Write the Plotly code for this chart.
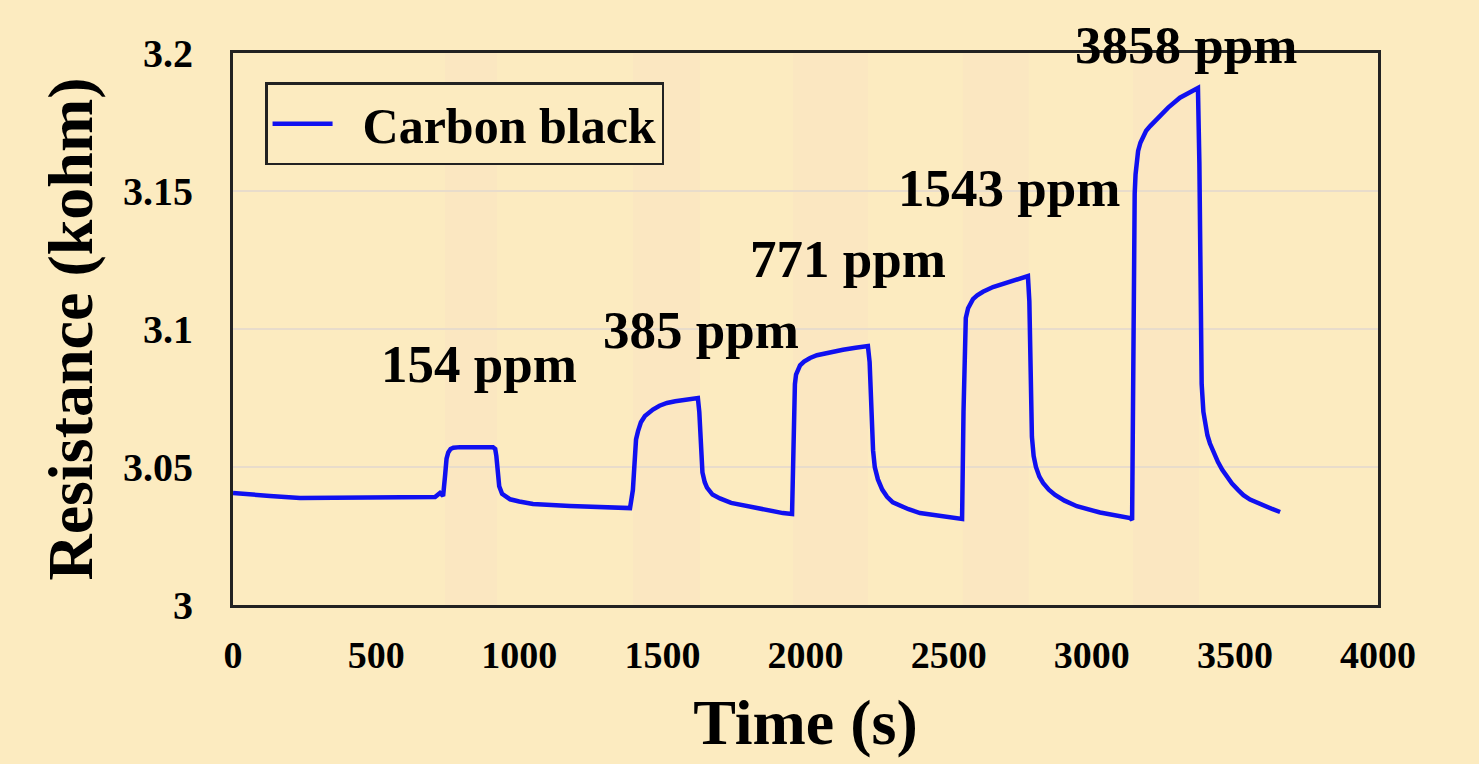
import plotly.graph_objects as go

# ---- data ----
time_s = [0, 42, 129, 234, 409, 583, 706, 723, 734,
          741, 746, 752, 760, 770, 793, 908, 916, 920, 924, 930, 940, 955, 968, 1000, 1048, 1177, 1282, 1387,
          1397, 1402, 1408, 1415, 1425, 1439, 1452, 1467, 1490, 1516, 1545, 1579, 1624,
          1629, 1634, 1640, 1648, 1656, 1675, 1701, 1740, 1806, 1921, 1953,
          1958, 1963, 1967, 1973, 1981, 1995, 2016, 2040, 2068, 2100, 2131, 2175, 2218,
          2224, 2230, 2236, 2242, 2253, 2268, 2285, 2305, 2330, 2360, 2400, 2470, 2540, 2547,
          2552, 2556, 2560, 2568, 2576, 2585, 2600, 2620, 2655, 2714, 2777,
          2782, 2786, 2791, 2797, 2805, 2817, 2830, 2850, 2872, 2905, 2948, 3029, 3134, 3141,
          3146, 3150, 3153, 3157, 3162, 3170, 3179, 3190, 3204, 3228, 3267, 3308, 3343, 3371,
          3376, 3380, 3384, 3390, 3396, 3404, 3413, 3425, 3441, 3456, 3473, 3490, 3511, 3530, 3553, 3578, 3605, 3630, 3658]
resistance = [3.0406, 3.0402, 3.0395, 3.0388, 3.0388, 3.0391, 3.0391, 3.0406, 3.0395,
              3.0470, 3.0530, 3.0553, 3.0565, 3.0570, 3.0572, 3.0572, 3.0565, 3.0540, 3.0480, 3.0430, 3.0403, 3.0390, 3.0383, 3.0375, 3.0366, 3.0359, 3.0355, 3.0351,
              3.0417, 3.0540, 3.0600, 3.0630, 3.0662, 3.0685, 3.0698, 3.0708, 3.0722, 3.0732, 3.0738, 3.0743, 3.0750,
              3.0700, 3.0560, 3.0480, 3.0445, 3.0425, 3.0400, 3.0386, 3.0370, 3.0355, 3.0333, 3.0330,
              3.0600, 3.0800, 3.0835, 3.0855, 3.0868, 3.0882, 3.0895, 3.0905, 3.0912, 3.0920, 3.0925, 3.0932, 3.0938,
              3.0880, 3.0700, 3.0560, 3.0500, 3.0455, 3.0418, 3.0392, 3.0372, 3.0359, 3.0347, 3.0333, 3.0322, 3.0315, 3.0312,
              3.0700, 3.0970, 3.1040, 3.1075, 3.1095, 3.1108, 3.1122, 3.1135, 3.1152, 3.1170, 3.1192,
              3.1100, 3.0800, 3.0609, 3.0540, 3.0500, 3.0465, 3.0442, 3.0418, 3.0399, 3.0378, 3.0358, 3.0335, 3.0315, 3.0308,
              3.1100, 3.1490, 3.1560, 3.1610, 3.1645, 3.1675, 3.1698, 3.1718, 3.1735, 3.1762, 3.1802, 3.1838, 3.1859, 3.1873,
              3.1600, 3.1000, 3.0800, 3.0700, 3.0650, 3.0615, 3.0585, 3.0552, 3.0518, 3.0490, 3.0464, 3.0440, 3.0417, 3.0398, 3.0382, 3.0370, 3.0358, 3.0348, 3.0337]

exposure_start = [741, 1397, 1956, 2550, 3144]
exposure_end = [922, 1631, 2218, 2780, 3375]

conc_labels = ["154 ppm", "385 ppm", "771 ppm", "1543 ppm", "3858 ppm"]
label_x = [860, 1635, 2150, 2710, 3330]
label_y = [3.0875, 3.0995, 3.1255, 3.151, 3.2030]

x_ticks = [0, 500, 1000, 1500, 2000, 2500, 3000, 3500, 4000]
y_ticks = [3.0, 3.05, 3.1, 3.15, 3.2]
y_tick_text = ["3", "3.05", "3.1", "3.15", "3.2"]

Y_MIN, Y_MAX = 3.0, 3.2
BG = "#FCEBC0"
BAND = "rgba(250,215,200,0.2)"
FONT = "Liberation Serif"

fig = go.Figure()
fig.add_trace(go.Scatter(
    x=time_s, y=resistance, mode="lines", name="\u00a0\u00a0<b>Carbon black</b>",
    line=dict(color="#1010F0", width=4.5),
))

for s, e in zip(exposure_start, exposure_end):
    fig.add_vrect(x0=s, x1=e, fillcolor=BAND, line_width=0, layer="below")

# labels placed with paper y so the top one (above the axis range) is still drawn
for txt, lx, ly in zip(conc_labels, label_x, label_y):
    fig.add_annotation(x=lx, xref="x", y=(ly - Y_MIN) / (Y_MAX - Y_MIN), yref="paper",
                       xanchor="center", yanchor="middle",
                       text="<b>" + txt + "</b>", showarrow=False,
                       font=dict(family=FONT, size=53, color="black"))

fig.update_layout(
    width=1479, height=764,
    paper_bgcolor=BG, plot_bgcolor=BG,
    margin=dict(l=233, r=101, t=53, b=159),
    font=dict(family=FONT, color="black"),
    showlegend=True,
    legend=dict(x=0.028, y=0.947, xanchor="left", yanchor="top",
                bgcolor=BG, bordercolor="#222", borderwidth=2.5,
                font=dict(family=FONT, size=50, color="black"),
                itemwidth=60),
)
fig.update_xaxes(
    range=[0, 4000], tickvals=x_ticks, ticktext=["<b>%d</b>" % v for v in x_ticks],
    tickfont=dict(family=FONT, size=38, color="black"),
    ticklabelstandoff=14,
    showgrid=False, zeroline=False,
    showline=True, linecolor="#222", linewidth=3, mirror=True,
    title=dict(text="<b>Time (s)</b>", font=dict(family=FONT, size=64, color="black"), standoff=25),
    automargin=False,
)
fig.update_yaxes(
    range=[Y_MIN, Y_MAX], tickvals=y_ticks, ticktext=["<b>%s</b>" % t for t in y_tick_text],
    tickfont=dict(family=FONT, size=40, color="black"),
    ticklabelstandoff=29,
    showgrid=True, gridcolor="#E8DCCB", gridwidth=2, zeroline=False,
    showline=True, linecolor="#222", linewidth=3, mirror=True,
    title=dict(text="<b>Resistance (kohm)</b>", font=dict(family=FONT, size=64, color="black"), standoff=10),
    automargin=False,
)

fig.write_html("out.html", config={"displayModeBar": False},
               post_script="document.body.style.margin='0';document.body.style.background='%s';" % BG)
